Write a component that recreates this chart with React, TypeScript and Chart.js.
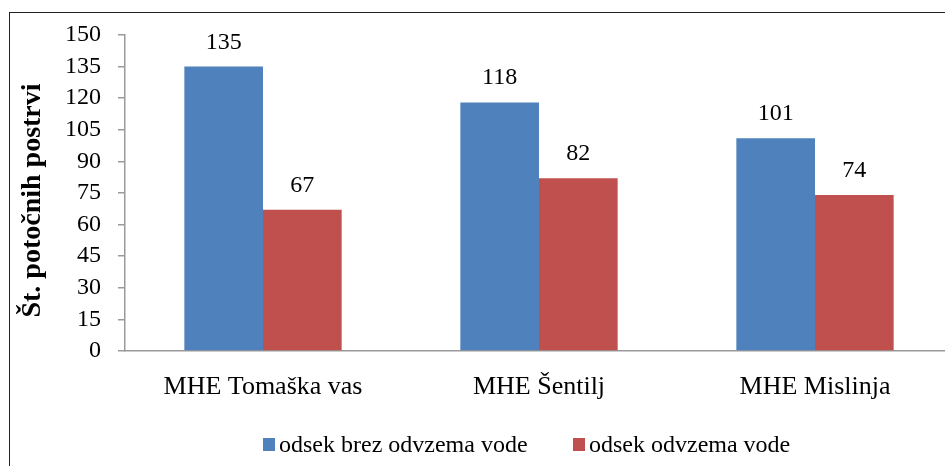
import React, { useEffect, useRef } from "react";
import { Chart, registerables } from "chart.js";

Chart.register(...registerables);

const categories = ["MHE Tomaška vas", "MHE Šentilj", "MHE Mislinja"];
const seriesNames = ["odsek brez odvzema vode", "odsek odvzema vode"];
const withoutAbstraction = [135, 118, 101];
const withAbstraction = [67, 82, 74];
const colors = ["#4F81BD", "#C0504D"];
const yTitle = "Št. potočnih postrvi";
const yMin = 0;
const yMax = 150;
const yStep = 15;

const FONT = "'Liberation Serif', 'Times New Roman', serif";

const dataLabelPlugin = {
  id: "dataLabels",
  afterDatasetsDraw(chart: any) {
    const ctx = chart.ctx;
    ctx.save();
    ctx.font = `24px ${FONT}`;
    ctx.fillStyle = "#000";
    ctx.textAlign = "center";
    ctx.textBaseline = "alphabetic";
    chart.data.datasets.forEach((ds: any, i: number) => {
      const meta = chart.getDatasetMeta(i);
      meta.data.forEach((bar: any, j: number) => {
        ctx.fillText(String(ds.data[j]), bar.x, bar.y - 18);
      });
    });
    ctx.restore();
  },
};

const yTitlePlugin = {
  id: "yTitle",
  afterDraw(chart: any) {
    const ctx = chart.ctx;
    const area = chart.chartArea;
    ctx.save();
    ctx.font = `bold 28px ${FONT}`;
    ctx.fillStyle = "#000";
    ctx.textAlign = "center";
    ctx.textBaseline = "alphabetic";
    ctx.translate(39.5, (area.top + area.bottom) / 2 + 7.5);
    ctx.rotate(-Math.PI / 2);
    ctx.fillText(yTitle, 0, 0);
    ctx.restore();
  },
};

export default function App() {
  const ref = useRef<HTMLCanvasElement>(null);
  useEffect(() => {
    if (!ref.current) return;
    const chart = new Chart(ref.current, {
      type: "bar",
      data: {
        labels: categories,
        datasets: [
          {
            label: seriesNames[0],
            data: withoutAbstraction,
            backgroundColor: colors[0],
            categoryPercentage: 0.57,
            barPercentage: 1,
          },
          {
            label: seriesNames[1],
            data: withAbstraction,
            backgroundColor: colors[1],
            categoryPercentage: 0.57,
            barPercentage: 1,
          },
        ],
      },
      options: {
        responsive: false,
        animation: false,
        layout: { padding: { top: 35, left: 0, right: 0, bottom: 0 } },
        plugins: {
          legend: { display: false },
          tooltip: { enabled: false },
        },
        scales: {
          x: {
            grid: { display: false },
            border: { display: true, color: "#9A9A9A", width: 1.5 },
            ticks: {
              color: "#000",
              font: { family: FONT, size: 26 },
              padding: 13,
              maxRotation: 0,
              autoSkip: false,
            },
            afterFit: (scale: any) => {
              scale.height = 115;
            },
          },
          y: {
            min: yMin,
            max: yMax,
            grid: {
              display: true,
              drawOnChartArea: false,
              drawTicks: true,
              tickLength: 7,
              color: "#9A9A9A",
              lineWidth: 1.5,
            },
            border: { display: true, color: "#9A9A9A", width: 1.5 },
            ticks: {
              stepSize: yStep,
              color: "#000",
              font: { family: FONT, size: 24 },
              padding: 17,
              autoSkip: false,
            },
            afterFit: (scale: any) => {
              scale.width = 125;
            },
          },
        },
      },
      plugins: [dataLabelPlugin, yTitlePlugin],
    });
    return () => chart.destroy();
  }, []);

  const legendItem = (name: string, color: string, left: number) => (
    <div
      style={{
        position: "absolute",
        left,
        top: 432,
        display: "flex",
        alignItems: "flex-start",
        whiteSpace: "nowrap",
      }}
    >
      <div
        style={{
          width: 12,
          height: 13,
          background: color,
          marginTop: 6,
          marginRight: 4,
        }}
      />
      <span
        style={{
          fontFamily: FONT,
          fontSize: 24,
          lineHeight: "24px",
          color: "#000",
        }}
      >
        {name}
      </span>
    </div>
  );

  return (
    <div
      style={{
        position: "absolute",
        left: 0,
        top: 0,
        width: 945,
        height: 466,
        overflow: "hidden",
        background: "#fff",
      }}
    >
      <div
        style={{
          position: "absolute",
          left: 9,
          top: 12,
          width: 1100,
          height: 600,
          borderTop: "1px solid #222",
          borderLeft: "1px solid #222",
        }}
      />
      <canvas
        ref={ref}
        width={953}
        height={466}
        style={{ position: "absolute", left: 0, top: 0 }}
      />
      {legendItem(seriesNames[0], colors[0], 263)}
      {legendItem(seriesNames[1], colors[1], 573)}
    </div>
  );
}
